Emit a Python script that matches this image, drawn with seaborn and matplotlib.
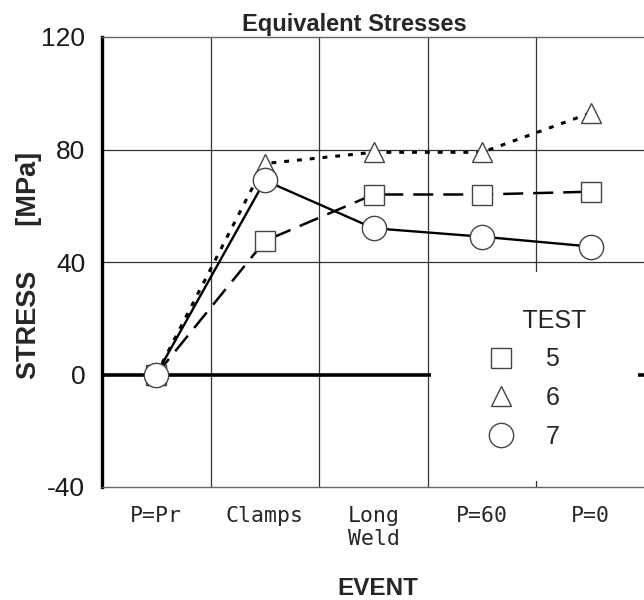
import numpy as np
import pandas as pd
import matplotlib
matplotlib.use("Agg")
import matplotlib.pyplot as plt
import seaborn as sns
from matplotlib.lines import Line2D
from matplotlib.patches import Rectangle

# ---- data ----
events = ["P=Pr", "Clamps", "Long\nWeld", "P=60", "P=0"]
tests = ["5", "6", "7"]
stress_5 = [0, 47.5, 64, 64, 65]
stress_6 = [0, 75, 79, 79, 93]
stress_7 = [0, 69, 52, 49, 45.5]
yticks = [-40, 0, 40, 80, 120]

sns.set_theme(style="white")
plt.rcParams["font.family"] = ["Liberation Sans", "DejaVu Sans"]
plt.rcParams["axes.unicode_minus"] = False

fig = plt.figure(figsize=(6.44, 6.0), dpi=100)
ax = fig.add_axes([102 / 644, 1 - 487 / 600, 543 / 644, 450 / 600])

pos = np.arange(len(events))
series = {
    "5": dict(y=stress_5, marker="s", ms=15, ls=(0, (8, 4)), lw=1.8),
    "6": dict(y=stress_6, marker="^", ms=15, ls=(0, (1.6, 2.6)), lw=2.2),
    "7": dict(y=stress_7, marker="o", ms=17.5, ls="-", lw=1.7),
}

for t in tests:
    s = series[t]
    df = pd.DataFrame({"event": pos, "stress": s["y"]})
    sns.lineplot(data=df, x="event", y="stress", ax=ax, color="black",
                 linestyle=s["ls"], linewidth=s["lw"], marker=s["marker"],
                 markersize=s["ms"], markerfacecolor="white",
                 markeredgecolor="#444444", markeredgewidth=1.0,
                 zorder=4, legend=False)

# zero line and grid
ax.axhline(0, color="black", lw=2.6, zorder=1.5)
for yv in [40, 80]:
    ax.axhline(yv, color="#333333", lw=0.9, zorder=1)
for xv in pos[:-1] + 0.5:
    ax.axvline(xv, color="#333333", lw=0.9, zorder=1)

# white legend area
ax.add_patch(Rectangle((0.606, 0.013), 0.381, 0.465, transform=ax.transAxes,
                       facecolor="white", edgecolor="none", zorder=2.5))

ax.set_xlim(-0.5, len(events) - 0.5)
ax.set_ylim(-40, 120)
ax.set_yticks(yticks)
ax.set_yticklabels([str(v) for v in yticks])
ax.set_xticks(pos)
ax.set_xticklabels(events, family="DejaVu Sans Mono", fontsize=15.5,
                   linespacing=1.15)
ax.tick_params(axis="y", length=0, pad=12, labelsize=19, labelcolor="#1a1a1a")
ax.tick_params(axis="x", length=0, pad=14)
ax.set_xlabel("")
ax.set_ylabel("")

for side in ["top", "bottom"]:
    ax.spines[side].set_color("#666666")
    ax.spines[side].set_linewidth(1.0)
ax.spines["right"].set_visible(False)
ax.spines["left"].set_color("black")
ax.spines["left"].set_linewidth(2.4)

# legend
handles = [
    Line2D([], [], ls="none", marker=series[t]["marker"],
           ms=series[t]["ms"], markerfacecolor="white",
           markeredgecolor="#444444", markeredgewidth=1.0)
    for t in tests
]
leg = ax.legend(handles, tests, title="     TEST", loc="upper left",
                bbox_to_anchor=((488 - 102) / 543, (487 - 309) / 450),
                frameon=False, fontsize=18, title_fontsize=18,
                handlelength=1.0, handletextpad=1.3, labelspacing=0.58,
                borderpad=0, borderaxespad=0, alignment="left")
leg.set_zorder(6)

fig.text(354 / 644, 1 - 31 / 600, "Equivalent Stresses", ha="center",
         va="baseline", fontsize=17, fontweight="bold")
fig.text(378 / 644, 1 - 595 / 600, "EVENT", ha="center", va="baseline",
         fontsize=17.5, fontweight="bold")
fig.text(29 / 644, 1 - 265 / 600, "STRESS      [MPa]", ha="center",
         va="center", rotation=90, fontsize=19.5, fontweight="bold")

fig.savefig("out.png", dpi=100)
